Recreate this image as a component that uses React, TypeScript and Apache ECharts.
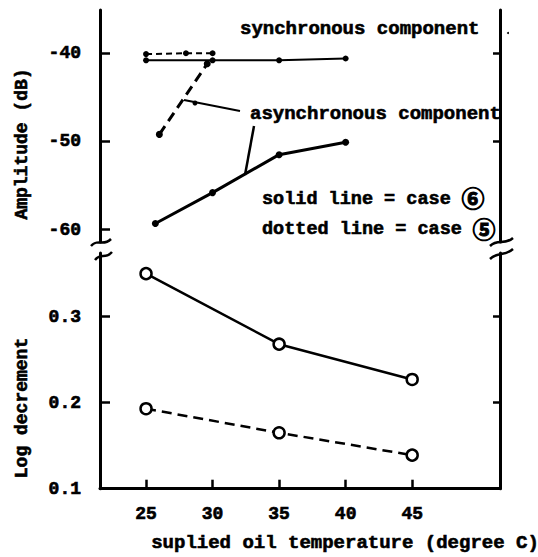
import React, { useEffect, useRef } from "react";
import * as echarts from "echarts";

// ---- data ----
const X_TICKS = [25, 30, 35, 40, 45];
const AMP_TICKS = [-40, -50, -60];
const AMP_TICKS_RIGHT = [-40, -50];
const LOG_TICKS = [0.1, 0.2, 0.3];
const LOG_TICKS_RIGHT = [0.2, 0.3];

// upper panel: amplitude (dB)
const syncCase6 = [[25, -40.8], [30, -40.8], [35, -40.8], [40, -40.6]];
const syncCase5 = [[25, -40.1], [28, -40.0], [30, -40.0]];
const asyncCase6 = [[25.7, -59.3], [30, -55.8], [35, -51.5], [40, -50.1]];
const asyncCase5 = [[26, -49.2], [29.6, -41.2]];

// lower panel: log decrement
const logCase6 = [[25, 0.35], [35, 0.268], [45, 0.227]];
const logCase5 = [[25, 0.193], [35, 0.165], [45, 0.139]];

const FONT = "Liberation Mono";

export default function App() {
  const ref = useRef<HTMLDivElement>(null);
  useEffect(() => {
    const chart = echarts.init(ref.current!, null, { renderer: "svg" });
    const axisLine = { show: true, lineStyle: { color: "#000", width: 3 } };
    const lbl = {
      color: "#000",
      fontFamily: FONT,
      fontWeight: "bold",
      fontSize: 18,
      textBorderColor: "#000",
      textBorderWidth: 0.6,
    };
    const txt = (text: string, x: number, y: number, extra: any = {}) => ({
      type: "text",
      x,
      y,
      ...extra,
      style: {
        text,
        fill: "#000",
        stroke: "#000",
        lineWidth: 0.6,
        fontFamily: FONT,
        fontWeight: "bold",
        fontSize: 19,
        align: "left",
        verticalAlign: "middle",
        ...(extra.style || {}),
      },
    });
    const circled = (text: string, x: number, y: number) => ({
      type: "text",
      x,
      y,
      style: {
        text,
        fill: "#000",
        stroke: "#000",
        lineWidth: 1,
        fontFamily: "Noto Sans CJK SC",
        fontWeight: "bold",
        fontSize: 23,
        align: "center",
        verticalAlign: "middle",
      },
    });
    const squiggle = (x1: number, y1: number, x2: number, y2: number) => ({
      type: "bezierCurve",
      shape: {
        x1,
        y1,
        cpx1: x1 + (x2 - x1) * 0.35,
        cpy1: y1 - 8,
        cpx2: x1 + (x2 - x1) * 0.6,
        cpy2: y2 + 8,
        x2,
        y2,
      },
      style: { stroke: "#000", lineWidth: 2.5, fill: "none" },
    });

    const option: any = {
      animation: false,
      textStyle: { fontFamily: FONT },
      grid: [
        { left: 100, right: 38, top: 10, height: 232 },
        { left: 100, right: 38, top: 253, height: 235.7 },
      ],
      xAxis: [
        {
          gridIndex: 0,
          type: "value",
          min: 21.54,
          max: 51.6,
          show: false,
        },
        {
          gridIndex: 1,
          type: "value",
          min: 21.54,
          max: 51.6,
          axisLine,
          axisTick: {
            show: true,
            inside: true,
            length: 9,
            customValues: X_TICKS,
            lineStyle: { color: "#000", width: 2.5 },
          },
          axisLabel: { ...lbl, margin: 16, customValues: X_TICKS },
          splitLine: { show: false },
        },
      ],
      yAxis: [
        {
          gridIndex: 0,
          type: "value",
          min: -61.4,
          max: -35.1,
          position: "left",
          axisLine,
          axisTick: {
            show: true,
            inside: true,
            length: 10,
            customValues: AMP_TICKS,
            lineStyle: { color: "#000", width: 2.5 },
          },
          axisLabel: { ...lbl, margin: 19, customValues: AMP_TICKS },
          splitLine: { show: false },
        },
        {
          gridIndex: 0,
          type: "value",
          min: -61.4,
          max: -35.1,
          position: "right",
          axisLine,
          axisTick: {
            show: true,
            inside: true,
            length: 7,
            customValues: AMP_TICKS_RIGHT,
            lineStyle: { color: "#000", width: 2.5 },
          },
          axisLabel: { show: false },
          splitLine: { show: false },
        },
        {
          gridIndex: 1,
          type: "value",
          min: 0.1,
          max: 0.374,
          position: "left",
          axisLine,
          axisTick: {
            show: true,
            inside: true,
            length: 10,
            customValues: LOG_TICKS,
            lineStyle: { color: "#000", width: 2.5 },
          },
          axisLabel: {
            ...lbl,
            margin: 19,
            customValues: LOG_TICKS,
            formatter: (v: number) => v.toFixed(1),
          },
          splitLine: { show: false },
        },
        {
          gridIndex: 1,
          type: "value",
          min: 0.1,
          max: 0.374,
          position: "right",
          axisLine,
          axisTick: {
            show: true,
            inside: true,
            length: 7,
            customValues: LOG_TICKS_RIGHT,
            lineStyle: { color: "#000", width: 2.5 },
          },
          axisLabel: { show: false },
          splitLine: { show: false },
        },
      ],
      series: [
        {
          name: "synchronous case 6",
          type: "line",
          xAxisIndex: 0,
          yAxisIndex: 0,
          data: syncCase6,
          symbol: "circle",
          symbolSize: 6,
          itemStyle: { color: "#000" },
          lineStyle: { color: "#000", width: 2 },
        },
        {
          name: "synchronous case 5",
          type: "line",
          xAxisIndex: 0,
          yAxisIndex: 0,
          data: syncCase5,
          symbol: "circle",
          symbolSize: 6,
          itemStyle: { color: "#000" },
          lineStyle: { color: "#000", width: 2, type: [6, 4] },
        },
        {
          name: "asynchronous case 6",
          type: "line",
          xAxisIndex: 0,
          yAxisIndex: 0,
          data: asyncCase6,
          symbol: "circle",
          symbolSize: 7,
          itemStyle: { color: "#000" },
          lineStyle: { color: "#000", width: 3 },
        },
        {
          name: "asynchronous case 5",
          type: "line",
          xAxisIndex: 0,
          yAxisIndex: 0,
          data: asyncCase5,
          symbol: "circle",
          symbolSize: 7,
          itemStyle: { color: "#000" },
          lineStyle: { color: "#000", width: 3, type: [10, 6] },
        },
        {
          name: "log decrement case 6",
          type: "line",
          xAxisIndex: 1,
          yAxisIndex: 2,
          data: logCase6,
          symbol: "circle",
          symbolSize: 11,
          itemStyle: { color: "#fff", borderColor: "#000", borderWidth: 2.5 },
          lineStyle: { color: "#000", width: 2.5 },
        },
        {
          name: "log decrement case 5",
          type: "line",
          xAxisIndex: 1,
          yAxisIndex: 2,
          data: logCase5,
          symbol: "circle",
          symbolSize: 11,
          itemStyle: { color: "#fff", borderColor: "#000", borderWidth: 2.5 },
          lineStyle: { color: "#000", width: 2.5, type: [10, 6] },
        },
      ],
      graphic: [
        // axis titles
        txt("Amplitude (dB)", 22, 144, {
          rotation: Math.PI / 2,
          style: { align: "center", fontSize: 18 },
        }),
        txt("Log decrement", 22, 408, {
          rotation: Math.PI / 2,
          style: { align: "center", fontSize: 18 },
        }),
        txt("suplied oil temperature (degree C)", 345, 543, {
          style: { align: "center" },
        }),
        // annotations
        txt("synchronous component", 240, 29),
        {
          type: "circle",
          shape: { cx: 508, cy: 33, r: 1 },
          style: { fill: "#000" },
        },
        txt("asynchronous component", 250, 114),
        txt("solid line = case", 262, 199, { style: { fontSize: 18.5 } }),
        txt("dotted line = case", 262, 229, { style: { fontSize: 18.5 } }),
        circled("⑥", 473, 197),
        circled("⑤", 484, 228),
        // leader lines
        {
          type: "line",
          shape: { x1: 240, y1: 111, x2: 184, y2: 100 },
          style: { stroke: "#000", lineWidth: 2 },
        },
        {
          type: "circle",
          shape: { cx: 195, cy: 103, r: 2.5 },
          style: { fill: "#000" },
        },
        {
          type: "line",
          shape: { x1: 254, y1: 126, x2: 245, y2: 175 },
          style: { stroke: "#000", lineWidth: 2.5 },
        },
        // axis break marks
        squiggle(91, 246, 111, 239),
        squiggle(95, 260, 112, 252),
        squiggle(490, 246, 513, 238),
        squiggle(490, 259, 513, 249),
      ],
    };
    chart.setOption(option);
    return () => chart.dispose();
  }, []);
  return (
    <div
      ref={ref}
      style={{ position: "absolute", left: 0, top: 0, width: 538, height: 557, background: "#fff" }}
    />
  );
}
